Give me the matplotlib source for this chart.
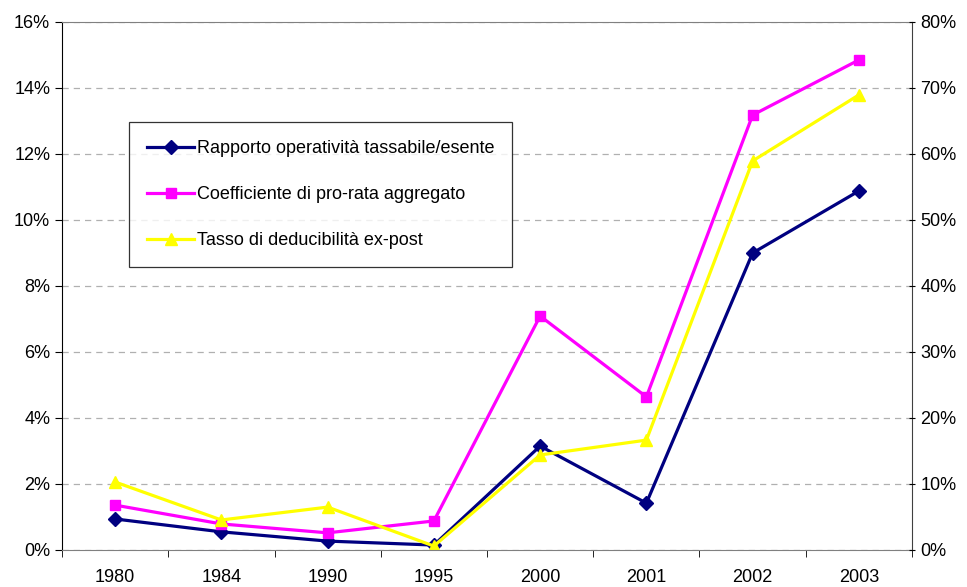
import matplotlib.pyplot as plt
from matplotlib.ticker import PercentFormatter, FixedLocator
import numpy as np

plt.rcParams['font.family'] = ['Liberation Sans', 'DejaVu Sans']

years = ['1980', '1984', '1990', '1995', '2000', '2001', '2002', '2003']
rapporto = [0.94, 0.55, 0.27, 0.15, 3.15, 1.42, 9.0, 10.88]
pro_rata = [1.36, 0.79, 0.52, 0.88, 7.09, 4.64, 13.18, 14.85]
deducibilita = [2.06, 0.91, 1.30, 0.12, 2.88, 3.33, 11.79, 13.79]

labels = ['Rapporto operatività tassabile/esente',
          'Coefficiente di pro-rata aggregato',
          'Tasso di deducibilità ex-post']

fig = plt.figure(figsize=(9.67, 5.87), dpi=100)
ax = fig.add_axes([62 / 967, 37 / 587, 850 / 967, 528 / 587])
x = np.arange(len(years))

ax.plot(x, rapporto, color='#000080', marker='D', ms=7, lw=2.3, label=labels[0])
ax.plot(x, pro_rata, color='#ff00ff', marker='s', ms=7, lw=2.3, label=labels[1])
ax.plot(x, deducibilita, color='#ffff00', marker='^', ms=9, lw=2.3, label=labels[2])

ax.set_xlim(-0.5, len(years) - 0.5)
ax.set_ylim(0, 16)
ax.set_yticks(np.arange(0, 17, 2))
ax.yaxis.set_major_formatter(PercentFormatter(decimals=0))
ax.yaxis.grid(True, color='#b0b0b0', ls=(0, (5, 4)), lw=0.9)
ax.set_axisbelow(True)

ax.set_xticks(x)
ax.set_xticklabels(years)
ax.xaxis.set_minor_locator(FixedLocator(np.arange(-0.5, len(years), 1)))
ax.tick_params(axis='x', which='major', length=0, pad=14, labelsize=13)
ax.tick_params(axis='x', which='minor', length=5, direction='out')
ax.tick_params(axis='y', length=5, direction='out', labelsize=13)

ax.spines['left'].set_color('black')
ax.spines['top'].set_color('#808080')
ax.spines['bottom'].set_color('#808080')
ax.spines['right'].set_color('#404040')

ax2 = ax.twinx()
ax2.set_ylim(0, 80)
ax2.set_yticks(np.arange(0, 81, 10))
ax2.yaxis.set_major_formatter(PercentFormatter(decimals=0))
ax2.tick_params(axis='y', length=5, direction='inout', labelsize=13)
for s in ax2.spines.values():
    s.set_visible(False)

leg = ax.legend(loc='upper left', bbox_to_anchor=(67 / 850, 1 - 100 / 528),
                fontsize=13, frameon=True, fancybox=False, edgecolor='black',
                borderpad=1.0, labelspacing=1.6, handlelength=2.6,
                handletextpad=0.15, borderaxespad=0)
leg.get_frame().set_linewidth(0.9)

fig.savefig('out.png', dpi=100)
